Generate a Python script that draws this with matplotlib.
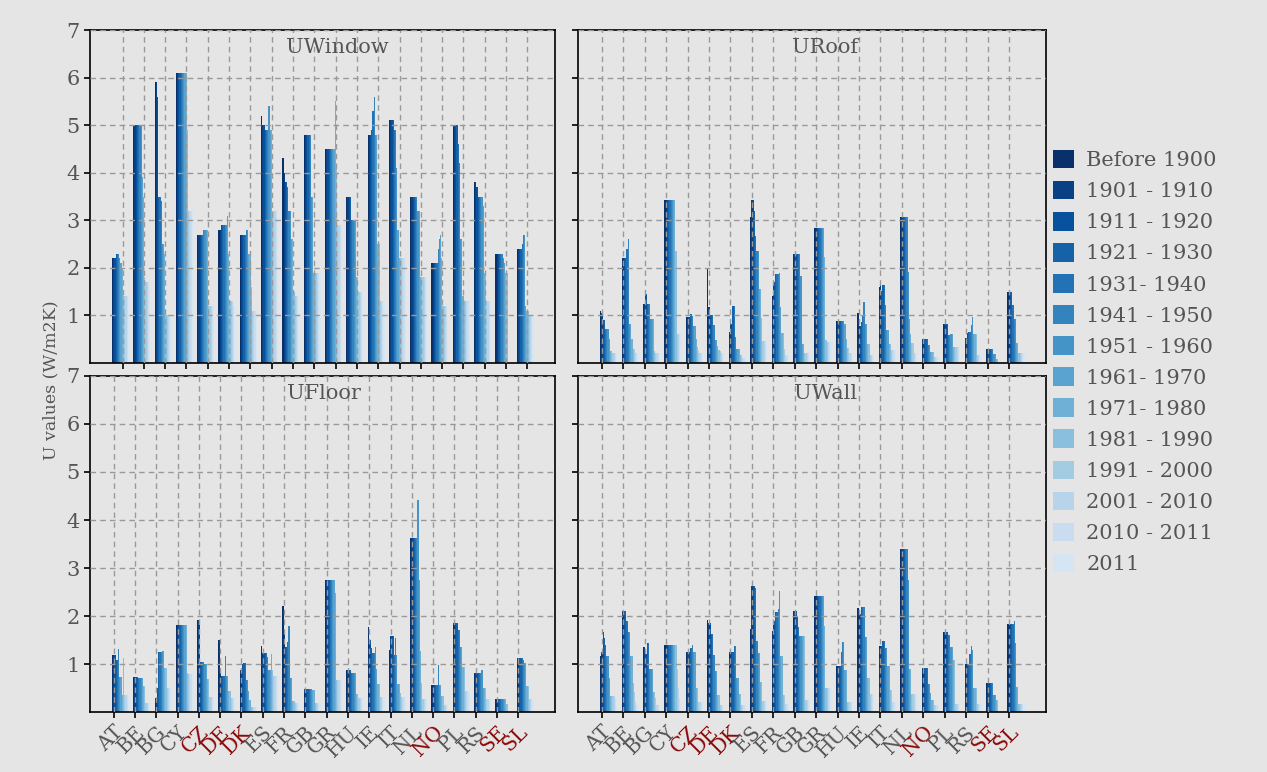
import matplotlib.pyplot as plt
import numpy as np

# U values per country and construction period (W/m2K)
countries = ['AT', 'BE', 'BG', 'CY', 'CZ', 'DE', 'DK', 'ES', 'FR', 'GB',
             'GR', 'HU', 'IE', 'IT', 'NL', 'NO', 'PL', 'RS', 'SE', 'SL']
red_countries = ['CZ', 'DE', 'DK', 'NO', 'SE', 'SL']
periods = ['Before 1900', '1901 - 1910', '1911 - 1920', '1921 - 1930',
           '1931- 1940', '1941 - 1950', '1951 - 1960', '1961- 1970',
           '1971- 1980', '1981 - 1990', '1991 - 2000', '2001 - 2010',
           '2010 - 2011', '2011']

u_window = np.array([
    [2.2, 2.2, 2.2, 2.3, 2.3, 2.3, 2.2, 2.1, 2.0, 1.4, 1.4, 1.4, 1.4, 1.4],
    [5.0, 5.0, 5.0, 5.0, 5.0, 5.0, 5.0, 3.9, 3.5, 1.8, 1.7, 1.7, 1.7, 1.7],
    [5.9, 5.9, 5.6, 3.5, 3.5, 3.4, 2.5, 2.5, 2.3, 1.0, 1.0, 1.0, 1.0, 1.0],
    [6.1, 6.1, 6.1, 6.1, 6.1, 6.1, 6.1, 6.1, 6.1, 4.9, 3.2, 3.2, 3.2, 3.2],
    [2.7, 2.7, 2.7, 2.7, 2.7, 2.8, 2.8, 2.8, 2.8, 1.2, 1.2, 1.2, 1.2, 1.2],
    [2.8, 2.8, 2.9, 2.9, 2.9, 2.9, 2.9, 3.1, 2.3, 1.3, 1.3, 1.3, 1.2, 1.2],
    [2.7, 2.7, 2.7, 2.7, 2.7, 2.8, 2.8, 2.3, 2.3, 1.6, 1.1, 1.1, 1.1, 1.1],
    [5.2, 5.0, 5.0, 4.9, 4.9, 4.9, 5.4, 4.9, 4.9, 3.2, 3.2, 3.2, 3.2, 3.2],
    [4.3, 4.0, 3.8, 3.8, 3.7, 3.2, 3.2, 2.6, 2.6, 1.5, 1.4, 1.4, 1.4, 1.4],
    [4.8, 4.8, 4.8, 4.8, 4.8, 4.8, 3.5, 3.5, 1.9, 1.9, 1.9, 1.9, 1.9, 1.9],
    [4.5, 4.5, 4.5, 4.5, 4.5, 4.5, 4.5, 4.5, 5.5, 4.1, 2.9, 2.9, 2.9, 2.9],
    [3.5, 3.5, 3.5, 3.5, 3.0, 3.0, 3.0, 3.0, 1.8, 1.8, 1.5, 1.5, 1.5, 1.5],
    [4.8, 4.8, 4.8, 4.9, 5.3, 5.6, 4.8, 4.8, 2.5, 2.5, 1.3, 1.3, 1.3, 1.3],
    [5.1, 5.1, 5.1, 5.1, 4.9, 4.9, 4.1, 2.8, 2.2, 2.2, 2.2, 2.2, 2.2, 2.2],
    [3.5, 3.5, 3.5, 3.5, 3.5, 3.5, 3.2, 3.2, 1.8, 1.8, 1.8, 1.8, 1.8, 1.8],
    [2.1, 2.1, 2.1, 2.1, 2.1, 2.4, 2.6, 2.7, 2.2, 1.2, 1.2, 1.2, 1.2, 1.2],
    [5.0, 5.0, 5.0, 5.0, 4.6, 4.2, 2.6, 2.6, 1.4, 1.3, 1.3, 1.3, 1.3, 1.3],
    [3.8, 3.8, 3.7, 3.5, 3.5, 3.5, 3.5, 3.3, 1.9, 1.9, 1.3, 1.3, 1.3, 1.3],
    [2.3, 2.3, 2.3, 2.3, 2.3, 2.3, 2.2, 2.1, 1.9, 1.9, 0.0, 0.0, 0.0, 0.0],
    [2.4, 2.4, 2.4, 2.4, 2.5, 2.7, 2.7, 1.2, 1.1, 1.1, 1.0, 1.0, 1.0, 1.0],
])

u_roof = np.array([
    [1.10, 1.05, 0.90, 0.90, 0.72, 0.72, 0.72, 0.50, 0.26, 0.26, 0.20, 0.20, 0.20, 0.20],
    [2.20, 2.20, 2.20, 2.20, 2.40, 2.60, 0.82, 0.82, 0.50, 0.30, 0.30, 0.20, 0.20, 0.20],
    [1.25, 1.25, 1.45, 1.25, 1.25, 1.25, 0.93, 0.93, 0.93, 0.25, 0.22, 0.22, 0.22, 0.22],
    [3.42, 3.42, 3.42, 3.42, 3.42, 3.42, 3.42, 3.42, 3.42, 2.36, 0.60, 0.60, 0.60, 0.60],
    [0.96, 0.96, 0.96, 1.03, 1.03, 0.98, 0.77, 0.77, 0.50, 0.34, 0.25, 0.21, 0.21, 0.21],
    [2.00, 1.17, 1.00, 1.00, 1.00, 0.80, 0.49, 0.49, 0.35, 0.28, 0.25, 0.20, 0.20, 0.20],
    [0.65, 0.82, 0.82, 1.20, 1.20, 0.55, 0.30, 0.30, 0.30, 0.16, 0.16, 0.10, 0.10, 0.10],
    [3.07, 3.42, 3.42, 3.20, 2.66, 2.36, 2.36, 1.55, 1.55, 0.94, 0.47, 0.47, 0.47, 0.47],
    [1.41, 1.71, 1.71, 1.87, 1.87, 1.87, 1.90, 1.17, 0.64, 0.64, 0.30, 0.16, 0.16, 0.16],
    [2.29, 2.29, 2.29, 2.29, 2.29, 2.29, 1.82, 0.40, 0.40, 0.20, 0.20, 0.20, 0.20, 0.20],
    [2.83, 2.83, 2.83, 2.83, 2.83, 2.83, 2.83, 2.83, 2.22, 0.49, 0.45, 0.44, 0.44, 0.44],
    [0.89, 0.89, 0.89, 0.89, 0.89, 0.89, 0.89, 0.82, 0.50, 0.31, 0.31, 0.21, 0.21, 0.21],
    [1.06, 0.77, 0.77, 0.87, 0.98, 1.28, 0.82, 0.82, 0.40, 0.40, 0.16, 0.16, 0.16, 0.16],
    [1.60, 1.65, 1.52, 1.65, 1.65, 1.22, 0.70, 0.70, 0.40, 0.40, 0.28, 0.28, 0.28, 0.28],
    [3.06, 3.06, 3.06, 3.06, 3.06, 3.06, 1.92, 0.93, 0.60, 0.42, 0.42, 0.20, 0.20, 0.20],
    [0.50, 0.50, 0.50, 0.50, 0.50, 0.37, 0.37, 0.24, 0.24, 0.24, 0.13, 0.13, 0.13, 0.13],
    [0.83, 0.83, 0.83, 0.83, 0.58, 0.58, 0.60, 0.60, 0.33, 0.33, 0.33, 0.33, 0.33, 0.33],
    [0.52, 0.52, 0.63, 0.66, 0.66, 0.80, 0.96, 0.62, 0.62, 0.62, 0.16, 0.16, 0.16, 0.16],
    [0.30, 0.30, 0.30, 0.30, 0.30, 0.30, 0.19, 0.19, 0.08, 0.08, 0.00, 0.00, 0.00, 0.00],
    [1.50, 1.50, 1.50, 1.50, 1.22, 0.93, 0.93, 0.43, 0.43, 0.20, 0.20, 0.20, 0.20, 0.20],
])

u_floor = np.array([
    [1.19, 1.19, 1.19, 1.08, 1.08, 1.32, 0.73, 0.73, 0.35, 1.12, 0.35, 0.35, 0.35, 0.35],
    [0.73, 0.73, 0.73, 0.73, 0.70, 0.70, 0.70, 0.70, 0.54, 0.54, 0.19, 0.19, 0.19, 0.19],
    [0.29, 0.29, 0.49, 1.25, 1.25, 1.25, 1.27, 1.28, 0.92, 0.92, 0.50, 0.50, 0.50, 0.50],
    [1.82, 1.82, 1.82, 1.82, 1.82, 1.82, 1.82, 1.82, 1.82, 0.82, 0.80, 0.80, 0.80, 0.80],
    [1.92, 1.92, 1.04, 1.04, 1.04, 1.04, 1.00, 1.00, 0.68, 0.68, 0.31, 0.31, 0.31, 0.31],
    [1.50, 0.87, 0.76, 0.76, 0.76, 1.16, 0.75, 0.75, 0.43, 0.43, 0.29, 0.29, 0.29, 0.29],
    [0.87, 0.87, 1.00, 1.03, 1.03, 0.66, 0.66, 0.43, 0.25, 0.10, 0.10, 0.10, 0.10, 0.10],
    [1.38, 1.23, 1.23, 1.23, 1.23, 1.14, 0.88, 0.88, 1.20, 0.88, 0.75, 0.75, 0.75, 0.75],
    [2.20, 1.70, 1.35, 1.35, 1.45, 1.80, 0.71, 0.71, 0.22, 0.22, 0.19, 0.19, 0.19, 0.19],
    [0.47, 0.47, 0.47, 0.47, 0.47, 0.47, 0.47, 0.45, 0.45, 0.19, 0.19, 0.19, 0.19, 0.19],
    [2.74, 2.74, 2.74, 2.74, 2.74, 2.74, 2.74, 2.74, 2.48, 0.66, 0.66, 0.66, 0.66, 0.66],
    [0.88, 0.88, 0.88, 0.88, 0.81, 0.81, 0.81, 0.81, 0.37, 0.37, 0.29, 0.29, 0.29, 0.29],
    [1.77, 1.50, 1.50, 1.33, 1.23, 1.23, 1.35, 0.90, 0.58, 0.58, 0.31, 0.31, 0.31, 0.31],
    [1.29, 1.59, 1.59, 1.59, 1.19, 1.54, 1.19, 0.58, 0.58, 0.40, 0.31, 0.31, 0.31, 0.31],
    [3.63, 3.63, 3.63, 3.63, 3.63, 3.63, 4.42, 2.74, 1.28, 0.60, 0.28, 0.28, 0.28, 0.28],
    [0.57, 0.57, 0.57, 0.57, 0.57, 0.98, 0.57, 0.57, 0.33, 0.33, 0.15, 0.15, 0.15, 0.15],
    [1.85, 1.85, 1.85, 1.85, 1.70, 1.70, 1.35, 1.35, 0.93, 0.93, 0.44, 0.44, 0.44, 0.44],
    [0.81, 0.81, 0.81, 0.81, 0.81, 0.81, 0.87, 0.51, 0.51, 0.51, 0.27, 0.27, 0.27, 0.27],
    [0.28, 0.28, 0.28, 0.28, 0.28, 0.28, 0.28, 0.28, 0.28, 0.17, 0.00, 0.00, 0.00, 0.00],
    [1.12, 1.12, 1.12, 1.12, 1.12, 1.08, 1.03, 1.03, 0.54, 0.54, 0.27, 0.27, 0.27, 0.27],
])

u_wall = np.array([
    [1.16, 1.25, 1.67, 1.55, 1.40, 1.17, 1.17, 0.71, 0.34, 0.34, 0.34, 0.34, 0.30, 0.30],
    [2.11, 2.11, 2.11, 2.11, 1.89, 1.67, 1.67, 1.16, 1.16, 0.60, 0.41, 0.20, 0.15, 0.15],
    [1.35, 1.35, 1.21, 1.44, 1.44, 0.90, 0.90, 0.90, 0.41, 0.41, 0.30, 0.15, 0.15, 0.15],
    [1.39, 1.39, 1.39, 1.39, 1.39, 1.39, 1.39, 1.39, 1.39, 1.39, 0.90, 0.50, 0.30, 0.20],
    [1.26, 1.26, 1.26, 1.33, 1.33, 1.40, 1.25, 1.25, 0.50, 0.50, 0.20, 0.20, 0.20, 0.20],
    [1.92, 1.85, 1.85, 1.62, 1.62, 1.19, 0.85, 0.85, 0.36, 0.36, 0.15, 0.15, 0.15, 0.15],
    [1.25, 1.25, 1.25, 1.25, 1.38, 1.38, 0.71, 0.71, 0.38, 0.38, 0.15, 0.15, 0.15, 0.15],
    [1.72, 2.63, 2.63, 2.63, 2.58, 1.47, 1.23, 1.23, 0.63, 0.63, 0.22, 0.22, 0.22, 0.22],
    [1.68, 1.90, 1.90, 2.08, 2.08, 2.15, 2.53, 1.16, 1.16, 0.36, 0.36, 0.17, 0.17, 0.17],
    [2.11, 2.11, 2.11, 2.00, 1.78, 1.59, 1.59, 1.59, 1.59, 1.59, 0.26, 0.26, 0.26, 0.26],
    [2.42, 2.42, 2.42, 2.42, 2.42, 2.42, 2.42, 2.42, 1.79, 0.49, 0.49, 0.49, 0.49, 0.49],
    [0.96, 0.96, 0.96, 0.96, 1.26, 1.45, 1.45, 0.87, 0.87, 0.21, 0.21, 0.21, 0.21, 0.21],
    [2.16, 2.04, 2.04, 2.18, 2.18, 2.18, 1.57, 1.57, 0.70, 0.70, 0.38, 0.38, 0.38, 0.38],
    [1.37, 1.37, 1.37, 1.48, 1.48, 1.34, 1.34, 0.96, 0.96, 0.45, 0.45, 0.21, 0.21, 0.21],
    [3.40, 3.40, 3.40, 3.40, 3.40, 3.40, 2.76, 0.89, 0.89, 0.38, 0.38, 0.38, 0.38, 0.38],
    [0.92, 0.92, 0.92, 0.92, 0.92, 0.59, 0.59, 0.40, 0.24, 0.24, 0.14, 0.14, 0.14, 0.14],
    [1.67, 1.67, 1.67, 1.67, 1.60, 1.60, 1.36, 1.36, 1.08, 1.08, 0.17, 0.17, 0.17, 0.17],
    [1.01, 1.01, 1.01, 1.01, 1.20, 1.37, 1.30, 0.49, 0.49, 0.49, 0.17, 0.17, 0.17, 0.17],
    [0.60, 0.60, 0.60, 0.60, 0.60, 0.60, 0.35, 0.35, 0.24, 0.24, 0.00, 0.00, 0.00, 0.00],
    [1.83, 1.83, 1.83, 1.83, 1.83, 1.90, 1.43, 0.52, 0.52, 0.17, 0.17, 0.17, 0.17, 0.17],
])

bg = '#e5e5e5'
text_col = '#555555'
red_col = '#8b0a0a'
plt.rcParams['font.family'] = ['DejaVu Serif']

colors = plt.cm.Blues(np.linspace(1.0, 0.17, len(periods)))
x = np.arange(len(countries))
w = 0.8 / len(periods)

fig = plt.figure(figsize=(12.67, 7.72), dpi=100, facecolor=bg)
L1, R1 = 90 / 1267, 555 / 1267
L2, R2 = 578 / 1267, 1046 / 1267
T1, B1 = 1 - 30 / 772, 1 - 363 / 772
T2, B2 = 1 - 376 / 772, 1 - 712 / 772
# title, data, axes rect, tick offset, title x position
panels = [
    ('UWindow', u_window, [L1, B1, R1 - L1, T1 - B1], 0.42, 0.531),
    ('URoof', u_roof, [L2, B1, R2 - L2, T1 - B1], 0.0, 0.528),
    ('UFloor', u_floor, [L1, B2, R1 - L1, T2 - B2], 0.0, 0.503),
    ('UWall', u_wall, [L2, B2, R2 - L2, T2 - B2], 0.0, 0.528),
]

handles = None
for n, (title, vals, rect, tick_shift, tx) in enumerate(panels):
    ax = fig.add_axes(rect, facecolor=bg)
    bars = []
    for k in range(len(periods)):
        b = ax.bar(x - 0.08 + k * w, vals[:, k], width=w, align='edge',
                   color=colors[k], linewidth=0, label=periods[k])
        bars.append(b)
    if handles is None:
        handles = bars
    ax.set_xlim(-1.11, 20.72)
    ax.set_ylim(0, 7)
    ax.set_yticks(range(1, 8))
    ax.set_xticks(x + tick_shift)
    ax.grid(True, color='#999999', linestyle=(0, (4, 3)), linewidth=1)
    ax.set_axisbelow(False)
    for s in ax.spines.values():
        s.set_color('black')
        s.set_linewidth(1.2)
    ax.tick_params(direction='out', length=4, width=1.2, colors='black',
                   labelcolor=text_col, labelsize=15)
    ax.text(tx, 0.975, title, transform=ax.transAxes, ha='center', va='top',
            fontsize=15, color=text_col)
    if n % 2 == 1:
        ax.set_yticklabels([])
    if n < 2:
        ax.set_xticklabels([])
    else:
        ax.set_xticklabels(countries, rotation=45, ha='right',
                           rotation_mode='anchor', fontsize=14.5)
        for lab in ax.get_xticklabels():
            if lab.get_text() in red_countries:
                lab.set_color(red_col)

fig.text(0.040, 0.508, 'U values (W/m2K)', rotation=90, ha='center',
         va='center', fontsize=12.5, color=text_col)

fig.legend(handles=handles, labels=periods, loc='upper left',
           bbox_to_anchor=(1034 / 1267, 1 - 131 / 772), frameon=False,
           handlelength=1.0, handleheight=1.0, handletextpad=0.6,
           labelspacing=0.51, fontsize=15, labelcolor=text_col)

plt.savefig('out.png', dpi=100, facecolor=bg)
